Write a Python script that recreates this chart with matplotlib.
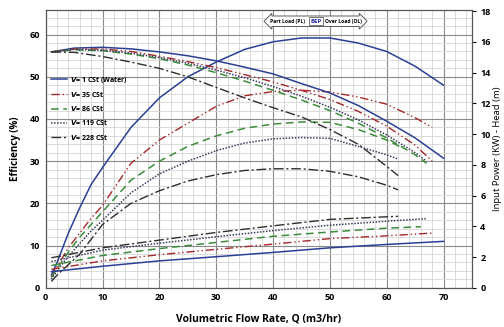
import matplotlib
matplotlib.use("Agg")
import matplotlib.pyplot as plt
from matplotlib.ticker import MultipleLocator

plt.rcParams['font.family'] = ['Open Sans', 'DejaVu Sans']
plt.rcParams['font.weight'] = 'bold'

# efficiency (%) vs flow (m3/hr)
q_eff_1 = [1, 2, 4, 6, 8, 10, 15, 20, 25, 30, 35, 40, 45, 50, 55, 60, 65, 70]
eff_1 = [3, 6, 13, 19, 24.5, 28.5, 38, 45, 50, 53.5, 56.5, 58.3, 59.2, 59.2, 58, 56, 52.5, 48]
q_eff_35 = [1, 2, 4, 6, 8, 10, 15, 20, 25, 30, 35, 40, 45, 50, 55, 60, 65, 68]
eff_35 = [2.5, 5, 9.5, 13, 16.5, 19.5, 29.5, 35, 39, 43, 45.5, 46.5, 46.8, 46.4, 45.2, 43.5, 40.3, 38]
q_eff_86 = [1, 2, 4, 6, 8, 10, 15, 20, 25, 30, 35, 40, 45, 50, 55, 60, 63]
eff_86 = [2.5, 4.5, 8.5, 12, 15, 18, 25.5, 30, 33.5, 36, 37.8, 38.8, 39.3, 39.2, 37.5, 35, 33]
q_eff_119 = [1, 2, 4, 6, 8, 10, 15, 20, 25, 30, 35, 40, 45, 50, 55, 60, 62]
eff_119 = [2, 4, 7.5, 10.5, 13.5, 16, 22.5, 27, 30, 32.5, 34.3, 35.3, 35.6, 35.4, 33.5, 31.5, 30.5]
q_eff_228 = [1, 2, 4, 6, 8, 10, 15, 20, 25, 30, 35, 40, 45, 50, 55, 60, 62]
eff_228 = [1.5, 3, 5.5, 8, 11.5, 15, 20, 23, 25.3, 26.8, 27.8, 28.2, 28.2, 27.6, 26.3, 24.3, 23.2]

# head (m) vs flow
q_head_1 = [1, 5, 10, 15, 20, 25, 30, 35, 40, 45, 50, 55, 60, 65, 70]
head_1 = [15.35, 15.6, 15.65, 15.55, 15.35, 15.1, 14.77, 14.36, 13.92, 13.29, 12.68, 11.86, 10.84, 9.75, 8.43]
q_head_35 = [1, 5, 10, 15, 20, 25, 30, 35, 40, 45, 50, 55, 60, 65, 68]
head_35 = [15.35, 15.54, 15.54, 15.38, 15.07, 14.72, 14.33, 13.87, 13.4, 12.85, 12.25, 11.48, 10.52, 9.28, 8.24]
q_head_86 = [1, 5, 10, 15, 20, 25, 30, 35, 40, 45, 50, 55, 60, 65, 67]
head_86 = [15.35, 15.49, 15.43, 15.21, 14.91, 14.5, 14.0, 13.45, 12.85, 12.22, 11.53, 10.71, 9.75, 8.65, 8.1]
q_head_119 = [1, 5, 10, 15, 20, 25, 30, 35, 40, 45, 50, 55, 60, 65, 67]
head_119 = [15.35, 15.51, 15.46, 15.27, 14.99, 14.61, 14.17, 13.67, 13.1, 12.47, 11.75, 10.93, 9.94, 8.79, 8.24]
q_head_228 = [1, 5, 10, 15, 20, 25, 30, 35, 40, 45, 50, 55, 60, 62]
head_228 = [15.35, 15.32, 15.05, 14.69, 14.28, 13.73, 13.04, 12.36, 11.72, 11.12, 10.3, 9.34, 7.9, 7.3]

# input power (kW) vs flow
q_pow_1 = [1, 10, 20, 30, 40, 50, 60, 70]
pow_1 = [1.05, 1.4, 1.75, 2.02, 2.3, 2.6, 2.82, 3.02]
q_pow_35 = [1, 10, 20, 30, 40, 50, 60, 68]
pow_35 = [1.2, 1.75, 2.15, 2.5, 2.84, 3.2, 3.38, 3.56]
q_pow_86 = [1, 10, 20, 30, 40, 50, 60, 66]
pow_86 = [1.45, 2.1, 2.55, 2.95, 3.35, 3.63, 3.88, 3.97]
q_pow_119 = [1, 10, 20, 30, 40, 50, 60, 67]
pow_119 = [1.7, 2.45, 2.9, 3.32, 3.72, 4.07, 4.33, 4.5]
q_pow_228 = [1, 10, 20, 30, 40, 50, 60, 62]
pow_228 = [1.95, 2.6, 3.1, 3.6, 4.03, 4.45, 4.62, 4.65]

labels = [r'$\mathit{V}$= 1 CSt (Water)', r'$\mathit{V}$= 35 CSt', r'$\mathit{V}$= 86 CSt',
          r'$\mathit{V}$= 119 CSt', r'$\mathit{V}$= 228 CSt']

styles = [
    dict(color='#2b3f94', linestyle='-', linewidth=1.1),
    dict(color='#a3282b', linestyle=(0, (6, 2, 1, 2, 1, 2)), linewidth=1.0),
    dict(color='#3b8c3b', linestyle=(0, (5, 3)), linewidth=1.1),
    dict(color='#3c3f5c', linestyle=(0, (1, 1)), linewidth=1.1),
    dict(color='#2e2e2e', linestyle=(0, (7, 2, 1.5, 2)), linewidth=1.0),
]

fig = plt.figure(figsize=(5.04, 3.27), dpi=100)
ax = fig.add_axes([0.0907, 0.120, 0.8458, 0.849])
ax2 = ax.twinx()

eff_data = [(q_eff_1, eff_1), (q_eff_35, eff_35), (q_eff_86, eff_86), (q_eff_119, eff_119), (q_eff_228, eff_228)]
head_data = [(q_head_1, head_1), (q_head_35, head_35), (q_head_86, head_86), (q_head_119, head_119), (q_head_228, head_228)]
pow_data = [(q_pow_1, pow_1), (q_pow_35, pow_35), (q_pow_86, pow_86), (q_pow_119, pow_119), (q_pow_228, pow_228)]

handles = []
for (q, e), st, lab in zip(eff_data, styles, labels):
    h, = ax.plot(q, e, label=lab, **st)
    handles.append(h)
for (q, h), st in zip(head_data, styles):
    ax2.plot(q, h, **st)
for (q, p), st in zip(pow_data, styles):
    ax2.plot(q, p, **st)

ax.set_xlim(0, 75)
ax.set_ylim(0, 65.8)
ax2.set_ylim(0, 18.07)

ax.xaxis.set_major_locator(MultipleLocator(10))
ax.xaxis.set_minor_locator(MultipleLocator(2))
ax.yaxis.set_major_locator(MultipleLocator(10))
ax.yaxis.set_minor_locator(MultipleLocator(2))
ax2.yaxis.set_major_locator(MultipleLocator(2))

ax.grid(which='major', color='#8a8a8a', linewidth=0.8)
ax.grid(which='minor', color='#d4d4d4', linewidth=0.6)
ax.set_axisbelow(True)
ax.tick_params(which='both', length=0, labelsize=6.5, pad=4)
ax2.tick_params(axis='y', length=3, labelsize=6.5, pad=3, direction='out')
for lbl in ax.get_xticklabels() + ax.get_yticklabels() + ax2.get_yticklabels():
    lbl.set_fontweight('bold')
for a in (ax, ax2):
    for s in a.spines.values():
        s.set_color('#555555')
        s.set_linewidth(0.8)

ax.set_xlabel('Volumetric Flow Rate, Q (m3/hr)', fontsize=7.5, fontweight='bold', labelpad=8)
ax.set_ylabel('Efficiency (%)', fontsize=7, fontweight='bold', labelpad=6)
ax2.set_ylabel('Input Power (KW) - Head (m)', fontsize=6.8, fontweight='normal', labelpad=2)

leg = ax.legend(handles=handles, loc='upper left', bbox_to_anchor=(0.0, 0.785), frameon=False,
                fontsize=5, handlelength=2.4, labelspacing=0.75, borderaxespad=0.3, handletextpad=0.4,
                prop=dict(weight='bold', size=5))

ax.text(0.634, 0.96, 'Part Load (PL)                Over Load (OL)', transform=ax.transAxes,
        ha='center', va='center', fontsize=3.6,
        bbox=dict(boxstyle='darrow,pad=0.55', facecolor='white', edgecolor='#444444', linewidth=0.6))
ax.text(0.634, 0.96, 'BEP', transform=ax.transAxes, ha='center', va='center', fontsize=4.4,
        color='#2b2bb0', fontweight='bold',
        bbox=dict(boxstyle='square,pad=0.25', facecolor='white', edgecolor='#444444', linewidth=0.5))

fig.savefig('out.png', dpi=100)
